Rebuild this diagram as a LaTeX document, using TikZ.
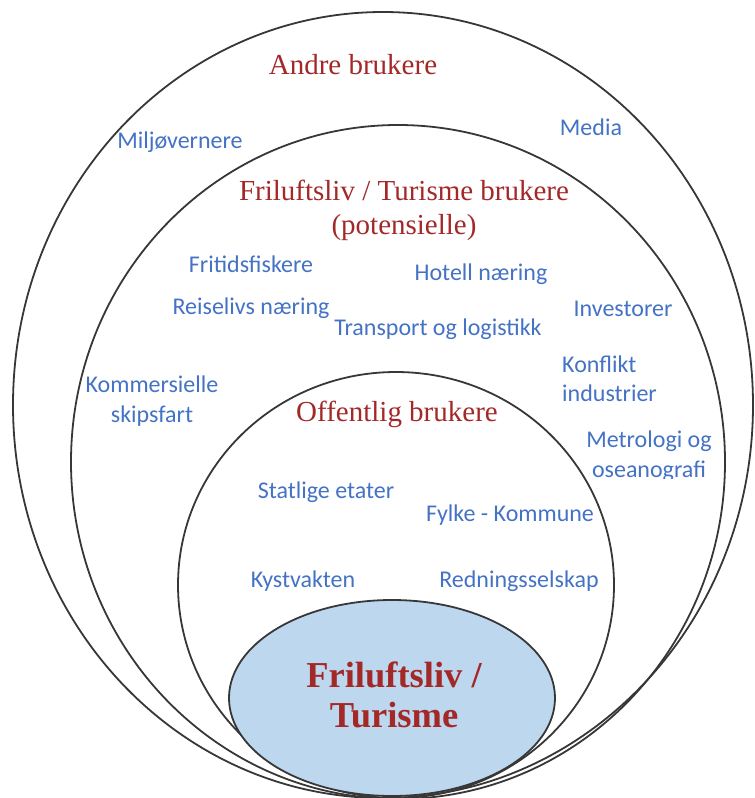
\documentclass[tikz,border=0pt]{standalone}
\usepackage{fontspec}
\setmainfont{Liberation Serif}
\newfontfamily\calibrifont{Carlito}
\definecolor{ringline}{RGB}{55,55,55}
\definecolor{groupred}{RGB}{163,40,40}
\definecolor{userblue}{RGB}{68,114,196}
\definecolor{corefill}{RGB}{189,215,238}
\begin{document}
\begin{tikzpicture}[x=1pt,y=-1pt,
  ring/.style={draw=ringline,line width=1.8pt},
  grouplabel/.style={text=groupred,font=\fontsize{29}{34}\selectfont,align=center,inner sep=0pt},
  corelabel/.style={text=groupred,font=\fontsize{36.5}{40}\selectfont\bfseries,align=center,inner sep=0pt},
  userlabel/.style={text=userblue,font=\calibrifont\fontsize{24}{29.5}\selectfont,align=center,inner sep=0pt}]
\useasboundingbox (0,0) rectangle (755,798);
\clip (0,0) rectangle (755,798);

% nested user rings, outermost first
\draw[ring] (383,405) ellipse [x radius=370pt, y radius=393pt];
\draw[ring] (398,462) ellipse [x radius=327pt, y radius=337pt];
\draw[ring] (396,585) ellipse [x radius=218pt, y radius=213pt];
\draw[ring,fill=corefill] (392,698) ellipse [x radius=163pt, y radius=98pt];

% group titles
\node[grouplabel] (andre) at (353,65) {Andre brukere};
\node[grouplabel] (potensielle) at (404,210) {Friluftsliv / Turisme brukere\\(potensielle)};
\node[grouplabel] (offentlig) at (397,414) {Offentlig brukere};
\node[corelabel] (kjerne) at (394,695) {Friluftsliv /\\Turisme};

% other users
\node[userlabel] (miljo) at (180,142) {Miljøvernere};
\node[userlabel] (media) at (591,127) {Media};
\node[userlabel] (kommersielle) at (152,401) {Kommersielle\\skipsfart};

% potential users
\node[userlabel] (fritid) at (251,264) {Fritidsfiskere};
\node[userlabel] (hotell) at (481,274) {Hotell næring};
\node[userlabel] (reiseliv) at (251,308) {Reiselivs næring};
\node[userlabel] (transport) at (438,329) {Transport og logistikk};
\node[userlabel] (investorer) at (623,309) {Investorer};
\node[userlabel,align=left,anchor=west] (konflikt) at (562,379) {Konflikt\\industrier};
\begin{scope}
  \clip (570,420) rectangle (730,478);
  \node[userlabel] (metrologi) at (649,456) {Metrologi og\\oseanografi};
\end{scope}

% public users
\node[userlabel] (statlige) at (326,492) {Statlige etater};
\node[userlabel] (fylke) at (510,515) {Fylke - Kommune};
\node[userlabel] (kystvakten) at (303,581) {Kystvakten};
\node[userlabel] (redning) at (519,581) {Redningsselskap};
\end{tikzpicture}
\end{document}
